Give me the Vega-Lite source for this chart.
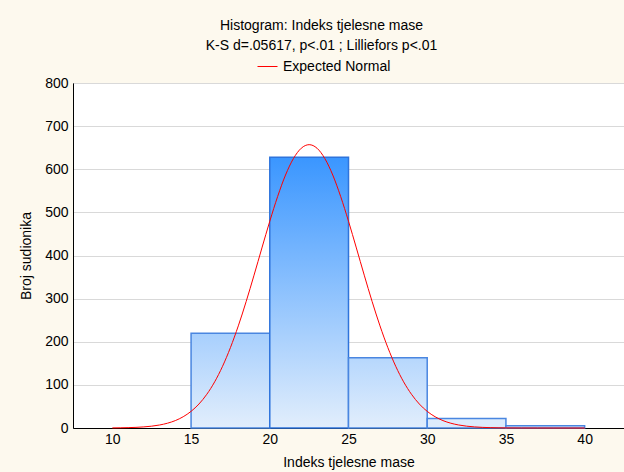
{
  "$schema": "https://vega.github.io/schema/vega-lite/v6.json",
  "width": 551,
  "height": 345,
  "autosize": "none",
  "padding": {"left": 73, "top": 83, "right": 0, "bottom": 44},
  "background": "#fdf9ee",
  "title": {
    "text": ["Histogram: Indeks tjelesne mase", "K-S d=.05617, p<.01 ; Lilliefors p<.01"],
    "font": "Liberation Sans",
    "fontSize": 14,
    "fontWeight": "normal",
    "lineHeight": 20,
    "anchor": "middle",
    "dx": -27,
    "offset": 3,
    "color": "black"
  },
  "datasets": {
    "bins": [
      {"start": 10, "end": 15, "count": 0},
      {"start": 15, "end": 20, "count": 220},
      {"start": 20, "end": 25, "count": 628},
      {"start": 25, "end": 30, "count": 163},
      {"start": 30, "end": 35, "count": 22},
      {"start": 35, "end": 40, "count": 5}
    ],
    "normal": [
      {"bmi": 10, "expected": 0.25, "series": "Expected Normal"},
      {"bmi": 10.5, "expected": 0.46, "series": "Expected Normal"},
      {"bmi": 11, "expected": 0.84, "series": "Expected Normal"},
      {"bmi": 11.5, "expected": 1.48, "series": "Expected Normal"},
      {"bmi": 12, "expected": 2.54, "series": "Expected Normal"},
      {"bmi": 12.5, "expected": 4.26, "series": "Expected Normal"},
      {"bmi": 13, "expected": 6.96, "series": "Expected Normal"},
      {"bmi": 13.5, "expected": 11.09, "series": "Expected Normal"},
      {"bmi": 14, "expected": 17.2, "series": "Expected Normal"},
      {"bmi": 14.5, "expected": 26.1, "series": "Expected Normal"},
      {"bmi": 15, "expected": 38.6, "series": "Expected Normal"},
      {"bmi": 15.5, "expected": 55.6, "series": "Expected Normal"},
      {"bmi": 16, "expected": 78.2, "series": "Expected Normal"},
      {"bmi": 16.5, "expected": 107.1, "series": "Expected Normal"},
      {"bmi": 17, "expected": 143.1, "series": "Expected Normal"},
      {"bmi": 17.5, "expected": 186.4, "series": "Expected Normal"},
      {"bmi": 18, "expected": 236.8, "series": "Expected Normal"},
      {"bmi": 18.5, "expected": 293.3, "series": "Expected Normal"},
      {"bmi": 19, "expected": 354.4, "series": "Expected Normal"},
      {"bmi": 19.5, "expected": 417.5, "series": "Expected Normal"},
      {"bmi": 20, "expected": 479.5, "series": "Expected Normal"},
      {"bmi": 20.5, "expected": 537.0, "series": "Expected Normal"},
      {"bmi": 21, "expected": 586.6, "series": "Expected Normal"},
      {"bmi": 21.5, "expected": 624.7, "series": "Expected Normal"},
      {"bmi": 22, "expected": 648.8, "series": "Expected Normal"},
      {"bmi": 22.5, "expected": 657.0, "series": "Expected Normal"},
      {"bmi": 23, "expected": 648.8, "series": "Expected Normal"},
      {"bmi": 23.5, "expected": 624.7, "series": "Expected Normal"},
      {"bmi": 24, "expected": 586.6, "series": "Expected Normal"},
      {"bmi": 24.5, "expected": 537.0, "series": "Expected Normal"},
      {"bmi": 25, "expected": 479.5, "series": "Expected Normal"},
      {"bmi": 25.5, "expected": 417.5, "series": "Expected Normal"},
      {"bmi": 26, "expected": 354.4, "series": "Expected Normal"},
      {"bmi": 26.5, "expected": 293.3, "series": "Expected Normal"},
      {"bmi": 27, "expected": 236.8, "series": "Expected Normal"},
      {"bmi": 27.5, "expected": 186.4, "series": "Expected Normal"},
      {"bmi": 28, "expected": 143.1, "series": "Expected Normal"},
      {"bmi": 28.5, "expected": 107.1, "series": "Expected Normal"},
      {"bmi": 29, "expected": 78.2, "series": "Expected Normal"},
      {"bmi": 29.5, "expected": 55.6, "series": "Expected Normal"},
      {"bmi": 30, "expected": 38.6, "series": "Expected Normal"},
      {"bmi": 30.5, "expected": 26.1, "series": "Expected Normal"},
      {"bmi": 31, "expected": 17.2, "series": "Expected Normal"},
      {"bmi": 31.5, "expected": 11.09, "series": "Expected Normal"},
      {"bmi": 32, "expected": 6.96, "series": "Expected Normal"},
      {"bmi": 32.5, "expected": 4.26, "series": "Expected Normal"},
      {"bmi": 33, "expected": 2.54, "series": "Expected Normal"},
      {"bmi": 33.5, "expected": 1.48, "series": "Expected Normal"},
      {"bmi": 34, "expected": 0.84, "series": "Expected Normal"},
      {"bmi": 34.5, "expected": 0.46, "series": "Expected Normal"},
      {"bmi": 35, "expected": 0.25, "series": "Expected Normal"},
      {"bmi": 36, "expected": 0.07, "series": "Expected Normal"},
      {"bmi": 37, "expected": 0.02, "series": "Expected Normal"},
      {"bmi": 38, "expected": 0.0, "series": "Expected Normal"},
      {"bmi": 39, "expected": 0.0, "series": "Expected Normal"},
      {"bmi": 40, "expected": 0.0, "series": "Expected Normal"}
    ]
  },
  "encoding": {
    "x": {
      "type": "quantitative",
      "scale": {"domain": [7.5, 42.5], "nice": false, "zero": false},
      "axis": {
        "title": "Indeks tjelesne mase",
        "values": [10, 15, 20, 25, 30, 35, 40],
        "grid": false,
        "ticks": false,
        "labelPadding": 4,
        "titlePadding": 9
      }
    },
    "y": {
      "type": "quantitative",
      "scale": {"domain": [0, 800], "nice": false},
      "axis": {
        "title": "Broj sudionika",
        "values": [0, 100, 200, 300, 400, 500, 600, 700, 800],
        "grid": true,
        "ticks": false,
        "labelPadding": 5,
        "titlePadding": 11
      }
    }
  },
  "layer": [
    {
      "data": {"name": "bins"},
      "transform": [{"filter": "datum.start == 15"}],
      "mark": {
        "type": "bar",
        "stroke": "#4a86e0",
        "strokeWidth": 1.5,
        "fill": {"gradient": "linear", "x1": 0, "y1": 0, "x2": 0, "y2": 1,
          "stops": [{"offset": 0, "color": "#a7cffd"}, {"offset": 1, "color": "#e2eefc"}]}
      },
      "encoding": {"x": {"field": "start"}, "x2": {"field": "end"}, "y": {"field": "count"}, "y2": {"datum": 0}}
    },
    {
      "data": {"name": "bins"},
      "transform": [{"filter": "datum.start == 20"}],
      "mark": {
        "type": "bar",
        "stroke": "#2f74dc",
        "strokeWidth": 1.5,
        "fill": {"gradient": "linear", "x1": 0, "y1": 0, "x2": 0, "y2": 1,
          "stops": [{"offset": 0, "color": "#3a96ff"}, {"offset": 1, "color": "#e2eefc"}]}
      },
      "encoding": {"x": {"field": "start"}, "x2": {"field": "end"}, "y": {"field": "count"}, "y2": {"datum": 0}}
    },
    {
      "data": {"name": "bins"},
      "transform": [{"filter": "datum.start == 25"}],
      "mark": {
        "type": "bar",
        "stroke": "#4a86e0",
        "strokeWidth": 1.5,
        "fill": {"gradient": "linear", "x1": 0, "y1": 0, "x2": 0, "y2": 1,
          "stops": [{"offset": 0, "color": "#b6d7fd"}, {"offset": 1, "color": "#e2eefc"}]}
      },
      "encoding": {"x": {"field": "start"}, "x2": {"field": "end"}, "y": {"field": "count"}, "y2": {"datum": 0}}
    },
    {
      "data": {"name": "bins"},
      "transform": [{"filter": "datum.start >= 30"}],
      "mark": {"type": "bar", "stroke": "#4a86e0", "strokeWidth": 1.5, "fill": "#dcebfc"},
      "encoding": {"x": {"field": "start"}, "x2": {"field": "end"}, "y": {"field": "count"}, "y2": {"datum": 0}}
    },
    {
      "data": {"name": "normal"},
      "mark": {"type": "line", "strokeWidth": 1, "interpolate": "monotone"},
      "encoding": {
        "x": {"field": "bmi"},
        "y": {"field": "expected"},
        "color": {
          "field": "series",
          "type": "nominal",
          "scale": {"range": ["#ff0000"]},
          "legend": {
            "title": null,
            "orient": "none",
            "legendX": 184,
            "legendY": -27,
            "direction": "horizontal",
            "symbolType": "stroke",
            "symbolSize": 400,
            "symbolStrokeWidth": 1,
            "labelFont": "Liberation Sans",
            "labelFontSize": 14,
            "labelColor": "black",
            "labelOffset": 5
          }
        }
      }
    }
  ],
  "config": {
    "view": {"fill": "white", "stroke": "#555555", "strokeWidth": 1},
    "axis": {
      "labelFont": "Liberation Sans",
      "labelFontSize": 14,
      "labelColor": "black",
      "titleFont": "Liberation Sans",
      "titleFontSize": 14,
      "titleFontWeight": "normal",
      "titleColor": "black",
      "domainColor": "black",
      "gridColor": "#d9d9d9",
      "gridWidth": 1
    }
  }
}
